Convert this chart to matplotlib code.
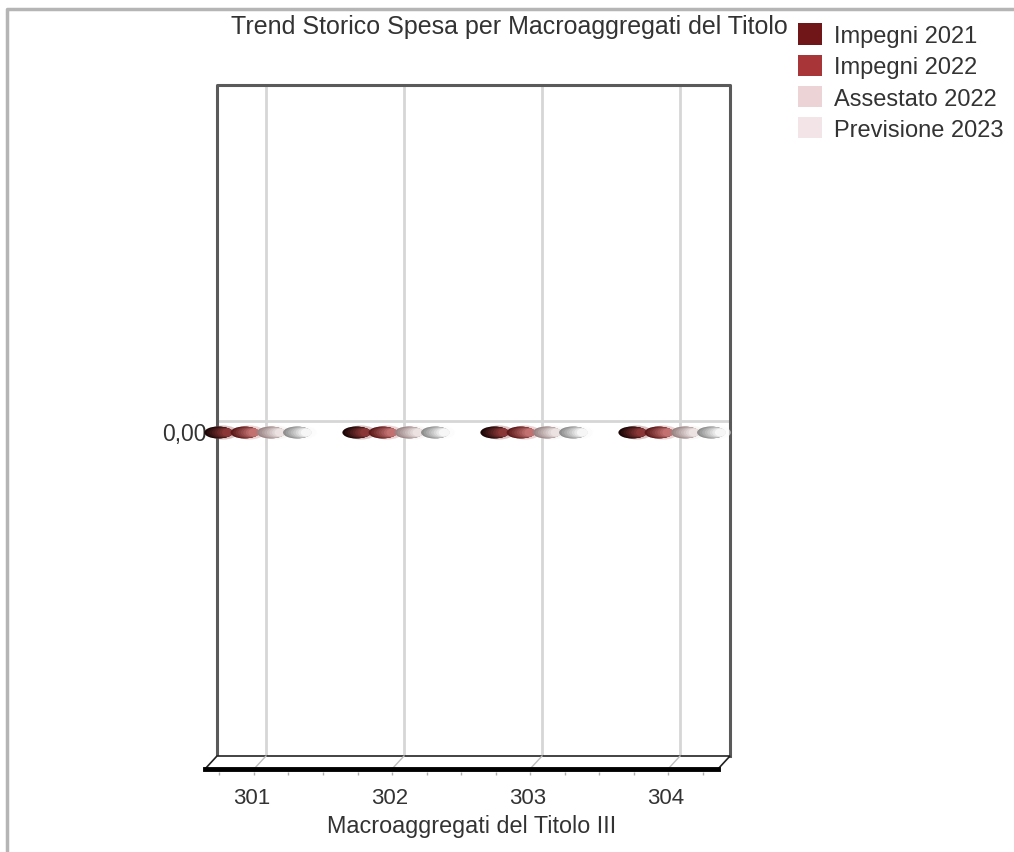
import matplotlib

matplotlib.use("Agg")
import matplotlib.pyplot as plt
import numpy as np
from matplotlib.colors import to_rgb
from matplotlib.lines import Line2D
from matplotlib.patches import Ellipse, Patch, Polygon
from matplotlib.transforms import ScaledTranslation, blended_transform_factory

plt.rcParams["font.family"] = ["Liberation Sans", "DejaVu Sans"]

categories = ["301", "302", "303", "304"]
series = ["Impegni 2021", "Impegni 2022", "Assestato 2022", "Previsione 2023"]
values = {
    "Impegni 2021": [0.0, 0.0, 0.0, 0.0],
    "Impegni 2022": [0.0, 0.0, 0.0, 0.0],
    "Assestato 2022": [0.0, 0.0, 0.0, 0.0],
    "Previsione 2023": [0.0, 0.0, 0.0, 0.0],
}
legend_colors = ["#701518", "#a83638", "#ecd3d6", "#f3e5e7"]
# dark / light ends of the shaded bar tops
shade_colors = [("#1c0606", "#8a3636"), ("#5c1a1a", "#c27070"),
                ("#9a8484", "#ece2e2"), ("#8e8e8e", "#f6f6f6")]
text_color = "#333333"

W, H, DPI = 1014, 853, 100
fig = plt.figure(figsize=(W / DPI, H / DPI), dpi=DPI)

# back wall of the 3D box, in pixels
left, right, top, bottom = 217, 730, 86, 757
ax = fig.add_axes([left / W, 1 - bottom / H, (right - left) / W, (bottom - top) / H])
ax.set_xlim(0.645, 4.362)
ax.set_ylim(-1, 1)
for s in ax.spines.values():
    s.set_visible(False)
ax.set_yticks([])
ax.set_xticks([])


def px(dx, dy):
    return ScaledTranslation(dx / DPI, -dy / DPI, fig.dpi_scale_trans)


depth_x, depth_y = -12, 13
xpos = np.arange(1, len(categories) + 1)
bx = blended_transform_factory(ax.transData, ax.transAxes)
by = blended_transform_factory(ax.transAxes, ax.transData)

# back wall frame
ax.plot([0, 0, 1, 1], [0, 1, 1, 0], transform=ax.transAxes, color="#5a5a5a",
        lw=2.2, clip_on=False, solid_joinstyle="round", zorder=3)
# grid
ax.vlines(xpos, 0, 1, transform=bx, color="#d6d6d6", lw=2, zorder=1)
ax.axhline(0, color="#d6d6d6", lw=2, zorder=1)

# floor
xy_back = ax.transAxes.transform([(0, 0), (1, 0)])
fl = fig.transFigure.inverted()
pts = [xy_back[0], xy_back[1],
       xy_back[1] + [depth_x, -depth_y], xy_back[0] + [depth_x, -depth_y]]
floor = Polygon([fl.transform(p) for p in pts], closed=True, transform=fig.transFigure,
                facecolor="white", edgecolor="#222222", lw=1.2, zorder=4)
fig.patches.append(floor)
for x in xpos:
    # slanted grid line across the floor
    p0 = bx.transform((x, 0))
    p1 = p0 + [depth_x, -depth_y]
    fig.add_artist(Line2D([fl.transform(p0)[0], fl.transform(p1)[0]],
                          [fl.transform(p0)[1], fl.transform(p1)[1]],
                          transform=fig.transFigure, color="#bdbdbd", lw=1, zorder=5))
front0, front1 = fl.transform(pts[3]), fl.transform(pts[2])
fig.add_artist(Line2D([front0[0], front1[0]], [front0[1], front1[1]],
                      transform=fig.transFigure, color="black", lw=3.5, zorder=6))

# small ticks under the front edge
minor = np.arange(0.75, 4.36, 0.25)
ax.vlines(minor, 0, -0.005, transform=bx + px(depth_x, depth_y + 3),
          color="#b0b0b0", lw=1, clip_on=False)

# bar tops (zero-height bars drawn as shaded ellipses)
group_w = 0.76
bar_w = group_w / len(series)
bar_trans = ax.transData + px(-5, 12)
for i, name in enumerate(series):
    dark, light = (np.array(to_rgb(c)) for c in shade_colors[i])
    for x, v in zip(xpos, values[name]):
        cx = x - group_w / 2 + bar_w * (i + 0.5)
        ax.add_patch(Ellipse((cx + bar_w * 0.05, v), bar_w * 1.15, 0.042, transform=bar_trans,
                             facecolor=(light + 1) / 2, edgecolor="none", alpha=0.6,
                             zorder=6, clip_on=False))
        steps = 8
        for k in range(steps):
            t = k / (steps - 1)
            col = dark * (1 - t) + light * t
            w = bar_w * 1.05 * (1 - 0.6 * t)
            h = 0.036 * (1 - 0.35 * t)
            ex = cx - bar_w * 0.45 + bar_w * 0.55 * t + w / 2 * 0.6
            ax.add_patch(Ellipse((ex, v), w, h, transform=bar_trans,
                                 facecolor=col, edgecolor="none", zorder=6, clip_on=False))

# labels
for x, lab in zip(xpos, categories):
    ax.text(x, 0, lab, transform=bx + px(depth_x - 2, depth_y + 29), ha="center",
            va="center", fontsize=16, color=text_color)
ax.text(0.5, 0, "Macroaggregati del Titolo III", transform=ax.transAxes + px(-2, 70),
        ha="center", va="center", fontsize=16.8, color=text_color)
ax.text(0, 0, "0,00", transform=by + px(-10, 13), ha="right", va="center",
        fontsize=16.5, color=text_color)

fig.text(509 / W, 1 - 27 / H, "Trend Storico Spesa per Macroaggregati del Titolo",
         ha="center", va="center", fontsize=18, color=text_color)

handles = [Patch(facecolor=c, edgecolor="none") for c in legend_colors]
fig.legend(handles, series, loc="upper left", bbox_to_anchor=(789 / W, 1 - 15 / H),
           frameon=False, fontsize=17, handlelength=1.0, handleheight=1.0,
           labelspacing=0.32, handletextpad=0.5, borderaxespad=0, labelcolor=text_color)

# outer frame of the picture
fig.add_artist(Line2D([7 / W, 7 / W, 1], [0, 1 - 10 / H, 1 - 10 / H],
                      transform=fig.transFigure, color="#b5b5b5", lw=2.5))

fig.savefig("out.png", dpi=DPI)
